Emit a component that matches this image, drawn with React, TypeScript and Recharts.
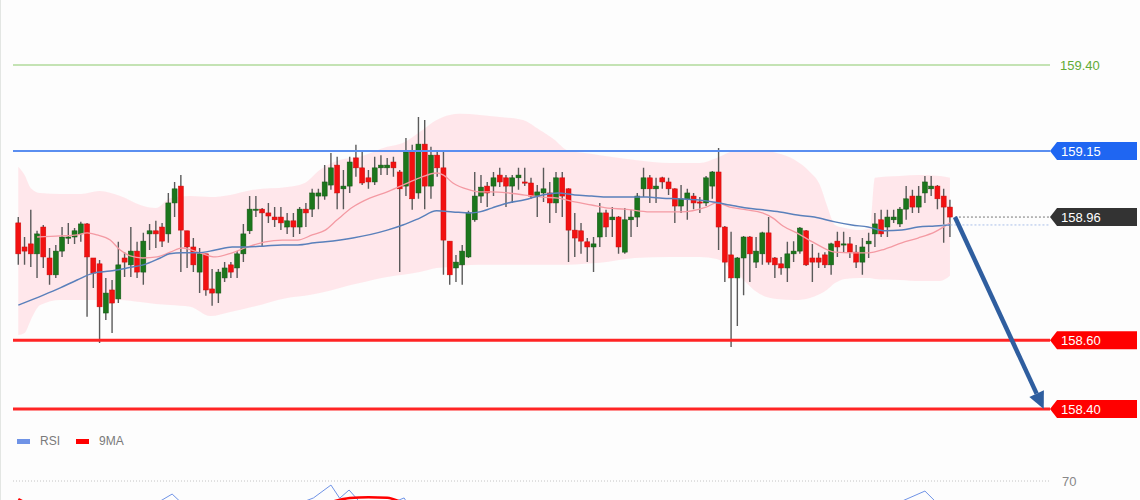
import React from "react";
import {
  ComposedChart,
  LineChart,
  Bar,
  Line,
  Area,
  XAxis,
  YAxis,
  ReferenceLine,
  Legend,
} from "recharts";

// 150 candles, oldest first
const openP = [
  158.941, 158.871, 158.88, 158.851, 158.929, 158.839, 158.79, 158.859, 158.897, 158.9,
  158.909, 158.938, 158.839, 158.822, 158.679, 158.746, 158.72, 158.839, 158.819, 158.859,
  158.798, 158.909, 158.918, 158.929, 158.909, 158.999, 159.048, 158.918, 158.871, 158.798,
  158.851, 158.749, 158.737, 158.781, 158.819, 158.81, 158.851, 158.918, 158.979, 158.981,
  158.97, 158.958, 158.958, 158.929, 158.947, 158.929, 158.981, 158.981, 159.019, 159.019,
  159.051, 159.109, 159.04, 159.048, 159.13, 159.101, 159.072, 159.06, 159.101, 159.101,
  159.118, 159.089, 159.048, 159.147, 159.028, 159.17, 159.048, 159.138, 159.101, 158.888,
  158.81, 158.819, 158.842, 158.95, 159.019, 159.048, 159.048, 159.08, 159.072, 159.048,
  159.072, 159.06, 159.057, 159.019, 159.028, 159.028, 158.999, 159.072, 159.04, 158.92,
  158.918, 158.886, 158.871, 158.9, 158.97, 158.95, 158.958, 158.856, 158.95, 158.958,
  159.04, 159.072, 159.04, 159.072, 159.06, 159.04, 158.99, 159.011, 159.019, 159.002,
  158.999, 159.048, 159.089, 158.929, 158.848, 158.781, 158.839, 158.9, 158.827, 158.851,
  158.912, 158.839, 158.822, 158.81, 158.851, 158.859, 158.918, 158.839, 158.839, 158.848,
  158.819, 158.888, 158.877, 158.88, 158.856, 158.827, 158.88, 158.909, 158.95, 158.929,
  158.95, 158.938, 158.981, 159.019, 158.987, 159.028, 159.04, 159.048, 159.019, 158.987,
];
const highP = [
  158.958, 158.9, 158.979, 158.918, 158.935, 158.868, 158.877, 158.929, 158.941, 158.926,
  158.944, 158.941, 158.839, 158.833, 158.781, 158.775, 158.886, 158.856, 158.929, 158.886,
  158.912, 158.938, 158.947, 158.941, 159.028, 159.06, 159.08, 158.918, 158.897, 158.868,
  158.851, 158.807, 158.807, 158.827, 158.827, 158.859, 158.938, 159.019, 159.019, 158.984,
  158.999, 158.987, 158.987, 158.97, 158.97, 158.987, 158.999, 159.04, 159.04, 159.109,
  159.144, 159.133, 159.095, 159.133, 159.168, 159.147, 159.095, 159.133, 159.138, 159.13,
  159.133, 159.095, 159.188, 159.168, 159.249, 159.24, 159.162, 159.147, 159.147, 158.888,
  158.848, 158.877, 158.976, 159.089, 159.08, 159.06, 159.089, 159.101, 159.08, 159.08,
  159.101, 159.101, 159.072, 159.051, 159.101, 159.06, 159.089, 159.089, 159.042, 158.97,
  158.941, 158.897, 158.9, 158.999, 158.979, 158.987, 158.961, 158.984, 158.979, 159.028,
  159.101, 159.08, 159.072, 159.075, 159.072, 159.042, 159.051, 159.04, 159.028, 159.016,
  159.077, 159.092, 159.159, 158.932, 158.915, 158.842, 158.903, 158.903, 158.9, 158.915,
  158.958, 158.842, 158.842, 158.886, 158.888, 158.929, 158.92, 158.88, 158.854, 158.856,
  158.883, 158.915, 158.915, 158.9, 158.877, 158.897, 158.912, 158.97, 158.979, 158.979,
  158.979, 158.987, 159.048, 159.037, 159.048, 159.077, 159.077, 159.051, 159.04, 159.008,
];
const lowP = [
  158.819, 158.819, 158.813, 158.781, 158.81, 158.761, 158.781, 158.842, 158.88, 158.88,
  158.886, 158.668, 158.752, 158.592, 158.659, 158.621, 158.708, 158.784, 158.784, 158.781,
  158.761, 158.862, 158.868, 158.871, 158.883, 158.958, 158.798, 158.81, 158.798, 158.737,
  158.729, 158.7, 158.708, 158.769, 158.781, 158.781, 158.827, 158.909, 158.958, 158.871,
  158.941, 158.929, 158.92, 158.909, 158.9, 158.909, 158.929, 158.958, 158.981, 159.008,
  159.037, 158.981, 158.981, 159.028, 159.075, 159.051, 159.04, 159.051, 159.08, 159.08,
  159.075, 158.798, 159.019, 158.979, 159.011, 158.981, 159.011, 159.075, 158.79, 158.761,
  158.769, 158.761, 158.839, 158.944, 158.999, 158.987, 159.019, 159.045, 158.987, 158.999,
  159.037, 159.048, 159.011, 158.958, 159.002, 158.941, 158.97, 158.958, 158.827, 158.842,
  158.851, 158.827, 158.798, 158.871, 158.9, 158.9, 158.851, 158.851, 158.9, 158.929,
  159.016, 158.999, 158.999, 159.04, 159.022, 158.941, 158.97, 158.95, 158.981, 158.97,
  158.99, 159.011, 158.862, 158.769, 158.58, 158.641, 158.731, 158.769, 158.81, 158.819,
  158.819, 158.781, 158.79, 158.769, 158.827, 158.851, 158.816, 158.769, 158.81, 158.81,
  158.79, 158.842, 158.856, 158.839, 158.81, 158.79, 158.839, 158.871, 158.9, 158.9,
  158.941, 158.929, 158.95, 158.97, 158.97, 158.999, 159.019, 158.981, 158.883, 158.9,
];
const closeP = [
  158.851, 158.859, 158.851, 158.909, 158.842, 158.79, 158.859, 158.9, 158.9, 158.918,
  158.938, 158.842, 158.795, 158.697, 158.737, 158.708, 158.819, 158.827, 158.859, 158.798,
  158.888, 158.918, 158.909, 158.888, 158.999, 159.04, 158.92, 158.871, 158.819, 158.851,
  158.746, 158.737, 158.798, 158.81, 158.798, 158.851, 158.909, 158.981, 158.981, 158.97,
  158.961, 158.95, 158.941, 158.947, 158.929, 158.981, 158.97, 159.028, 159.028, 159.06,
  159.101, 159.028, 159.048, 159.118, 159.101, 159.057, 159.06, 159.101, 159.109, 159.109,
  159.101, 159.04, 159.147, 159.011, 159.17, 159.048, 159.138, 159.101, 158.891, 158.79,
  158.827, 158.859, 158.97, 159.019, 159.045, 159.028, 159.072, 159.06, 159.048, 159.072,
  159.08, 159.057, 159.019, 159.031, 159.04, 158.999, 159.072, 159.019, 158.92, 158.897,
  158.888, 158.871, 158.88, 158.97, 158.929, 158.958, 158.871, 158.95, 158.958, 159.019,
  159.072, 159.04, 159.048, 159.06, 159.04, 158.99, 159.011, 159.028, 158.999, 158.999,
  159.072, 159.089, 158.929, 158.827, 158.781, 158.839, 158.9, 158.851, 158.859, 158.912,
  158.827, 158.819, 158.81, 158.851, 158.859, 158.926, 158.819, 158.827, 158.827, 158.819,
  158.88, 158.871, 158.88, 158.856, 158.827, 158.871, 158.888, 158.938, 158.909, 158.958,
  158.958, 158.981, 159.011, 158.987, 159.019, 159.06, 159.048, 159.011, 158.987, 158.958,
];

// bollinger envelope, read at these candle positions
const bandAt = [
  0, 1, 2, 3.5, 6.7, 10, 13, 16.3, 19.5, 22, 24.3, 27.5, 30.7, 33.9, 37.5, 43, 45.8, 48.2,
  51.4, 54.6, 59, 61.5, 64.2, 66.9, 69, 70.6, 73.8, 77, 80.7, 83.4, 85.8, 87.7, 90.6, 93,
  98.6, 104.2, 109, 111.7, 114.6, 118.6, 121.3, 124.2, 126.6, 128.2, 129.3, 130.6, 132.2,
  134.6, 136.2, 137, 141, 144.2, 147.4, 149,
];
const bandHigh = [
  159.104, 159.08, 159.042, 159.028, 159.025, 159.025, 159.034, 159.019, 158.993, 158.984,
  159.013, 159.019, 159.016, 159.022, 159.037, 159.045, 159.057, 159.095, 159.124, 159.133,
  159.162, 159.173, 159.205, 159.24, 159.255, 159.258, 159.255, 159.249, 159.24, 159.211,
  159.182, 159.153, 159.144, 159.138, 159.124, 159.115, 159.115, 159.13, 159.15, 159.153,
  159.144, 159.124, 159.089, 159.051, 158.993, 158.935, 158.926, 158.92, 158.926, 159.072,
  159.077, 159.08, 159.077, 159.072,
];
const bandLow = [
  158.615, 158.621, 158.659, 158.702, 158.717, 158.717, 158.717, 158.717, 158.711, 158.705,
  158.702, 158.697, 158.67, 158.682, 158.697, 158.723, 158.729, 158.737, 158.752, 158.766,
  158.784, 158.79, 158.798, 158.81, 158.813, 158.816, 158.819, 158.819, 158.819, 158.819,
  158.819, 158.819, 158.822, 158.825, 158.839, 158.842, 158.842, 158.836, 158.798, 158.734,
  158.72, 158.717, 158.723, 158.734, 158.746, 158.766, 158.778, 158.781, 158.781, 158.778,
  158.775, 158.772, 158.772, 158.787,
];

// pink middle line
const maFastAt = [
  3, 6.7, 9.4, 11, 12.6, 14.7, 16.3, 17.9, 19.9, 22.2, 24.3, 26.2, 28.7, 31.5, 34.2, 36.7,
  39.5, 42.2, 44.7, 47, 49.1, 51, 53.5, 56.2, 59, 61.5, 64.2, 66.9, 68, 69.5, 72.2, 73.8,
  75.7, 78.3, 81, 83.8, 86.3, 89, 91.7, 94.3, 97, 101, 106, 110, 111.7, 113.8, 116.5, 119,
  120.7, 122.3, 124.5, 127.3, 130.6, 133.3, 135.9, 138.6, 141.3, 143.9, 146.6, 149,
];
const maFast = [
  158.9, 158.903, 158.906, 158.912, 158.906, 158.891, 158.862, 158.845, 158.839, 158.842,
  158.856, 158.868, 158.856, 158.842, 158.854, 158.871, 158.886, 158.891, 158.891, 158.906,
  158.92, 158.95, 158.987, 159.013, 159.031, 159.051, 159.072, 159.086, 159.08, 159.057,
  159.037, 159.031, 159.031, 159.028, 159.022, 159.016, 159.013, 159.002, 158.993, 158.984,
  158.981, 158.973, 158.973, 158.987, 158.999, 158.987, 158.979, 158.97, 158.955, 158.932,
  158.912, 158.883, 158.856, 158.854, 158.854, 158.865, 158.883, 158.897, 158.915, 158.941,
];

// blue slow average
const maSlowAt = [
  0, 4, 6.7, 9.4, 12, 14.7, 17.4, 20, 22.7, 24.2, 26.2, 28.7, 31.5, 34.2, 36.7, 39.5, 42.2,
  44.7, 47.4, 49.1, 53.5, 59, 61.5, 64.2, 66.9, 69.5, 72.2, 73.8, 75.7, 78.3, 81, 83.8, 86.3,
  89, 91.7, 94.3, 97, 100.5, 103, 105.8, 108.5, 111.1, 113.8, 116.5, 119.1, 121.8, 124.6,
  127.3, 130.6, 133.3, 135.9, 138.6, 141.3, 143.9, 146.6, 149,
];
const maSlow = [
  158.702, 158.731, 158.752, 158.775, 158.795, 158.801, 158.81, 158.819, 158.839, 158.851,
  158.854, 158.854, 158.862, 158.871, 158.871, 158.874, 158.877, 158.877, 158.883, 158.886,
  158.897, 158.92, 158.935, 158.955, 158.976, 158.973, 158.97, 158.973, 158.984, 158.999,
  159.008, 159.022, 159.028, 159.022, 159.019, 159.016, 159.016, 159.016, 159.013, 159.011,
  159.008, 159.002, 158.993, 158.984, 158.979, 158.973, 158.964, 158.958, 158.944, 158.935,
  158.929, 158.918, 158.92, 158.929, 158.932, 158.935,
];

// RSI pane, only its top edge shows
const rsiAt = [
  0, 5, 10, 15, 20, 24.6, 28, 33, 38, 43, 47.2, 50, 51.4, 52.9, 54.6, 57, 59.5, 61.7, 63, 66,
  69, 72, 78, 85, 90, 95, 100, 106, 112, 114, 118, 124, 130, 136, 141, 145, 147, 149,
];
const rsi = [
  52, 48, 45, 40, 50, 61.3, 48, 40, 50, 52, 58.7, 67.3, 58.5, 64, 56, 52, 55, 58.7, 50, 56,
  40, 45, 52, 50, 42, 46, 52, 50, 54, 35, 40, 42, 44, 50, 56, 63.3, 55, 50,
];
const rsiMaAt = [0, 3, 10, 20, 30, 40, 48, 53, 56, 59, 62, 68, 80, 100, 115, 125, 140, 149];
const rsiMa = [58, 52, 47, 46, 48, 50, 54, 58.6, 59.2, 58.8, 55, 52, 50, 48, 45, 42, 50, 54];
const legendOrder = ["RSI", "9MA"];

const rsiLevel = 70;
const resistance2 = 159.4;
const resistance1 = 159.15;
const support1 = 158.6;
const support2 = 158.4;

const W = 1140;
const H = 500;
const X_DOMAIN: [number, number] = [-0.85, 165];
const FONT = "'Liberation Sans', Arial, sans-serif";

const candles = openP.map((o, i) => ({ i, o, h: highP[i], l: lowP[i], c: closeP[i] }));
const band = bandAt.map((i, k) => ({ i, lo: bandLow[k], hi: bandHigh[k] }));
const fast = maFastAt.map((i, k) => ({ i, v: maFast[k] }));
const slow = maSlowAt.map((i, k) => ({ i, v: maSlow[k] }));
const rsiPts = rsiAt.map((i, k) => ({ i, v: rsi[k] }));
const rsiMaPts = rsiMaAt.map((i, k) => ({ i, v: rsiMa[k] }));

const lastIdx = candles.length - 1;
const lastClose = closeP[lastIdx];
const lastSlow = maSlow[maSlow.length - 1];

const Candle = (props: any) => {
  const { x, y, width, height, payload } = props;
  if (payload == null) return null;
  const top = Math.min(y, y + height);
  const bot = Math.max(y, y + height);
  const span = payload.h - payload.l || 1;
  const py = (p: number) => top + ((payload.h - p) / span) * (bot - top);
  const cx = x + width / 2;
  const up = payload.c >= payload.o;
  const bTop = py(Math.max(payload.o, payload.c));
  const bBot = py(Math.min(payload.o, payload.c));
  return (
    <g>
      <line x1={cx} x2={cx} y1={top} y2={bot} stroke="#5a5a5a" strokeWidth={1.4} />
      <rect
        x={cx - 2.5}
        y={bTop}
        width={5}
        height={Math.max(1.2, bBot - bTop)}
        fill={up ? "#1c761c" : "#f21111"}
        stroke={up ? "#135513" : "#c80c0c"}
        strokeWidth={0.5}
      />
    </g>
  );
};

const tag = (fill: string, text: string) => (p: any) => {
  const vb = p.viewBox || {};
  const x = vb.x + vb.width;
  const y = vb.y;
  return (
    <g>
      <polygon
        points={`${x},${y} ${x + 7},${y - 9} ${x + 87},${y - 9} ${x + 87},${y + 9} ${x + 7},${y + 9}`}
        fill={fill}
      />
      <text x={x + 11} y={y} dy="0.36em" fill="#ffffff" fontSize={13} fontFamily={FONT}>
        {text}
      </text>
    </g>
  );
};

const plainLabel = (color: string, text: string, dx: number) => (p: any) => {
  const vb = p.viewBox || {};
  return (
    <text x={vb.x + vb.width + dx} y={vb.y} dy="0.36em" fill={color} fontSize={13} fontFamily={FONT}>
      {text}
    </text>
  );
};

const arrowShape = (p: any) => {
  const { x1, y1, x2, y2 } = p;
  const dx = x2 - x1;
  const dy = y2 - y1;
  const len = Math.hypot(dx, dy) || 1;
  const ux = dx / len;
  const uy = dy / len;
  const bx = x2 - ux * 17;
  const by = y2 - uy * 17;
  const nx = -uy * 8;
  const ny = ux * 8;
  return (
    <g>
      <line x1={x1} y1={y1} x2={bx} y2={by} stroke="#2f5e9f" strokeWidth={4.5} />
      <polygon points={`${x2},${y2} ${bx + nx},${by + ny} ${bx - nx},${by - ny}`} fill="#2f5e9f" />
    </g>
  );
};

const LegendBox = (props: any) => {
  const items = [...(props.payload || [])].sort(
    (a: any, b: any) => legendOrder.indexOf(a.value) - legendOrder.indexOf(b.value),
  );
  return (
    <div style={{ display: "flex", alignItems: "center", fontFamily: FONT, fontSize: 12, color: "#7a7a7a" }}>
      {items.map((it: any) => (
        <span key={it.value} style={{ display: "inline-flex", alignItems: "center", marginRight: 16 }}>
          <span style={{ display: "inline-block", width: 13, height: 5, background: it.color, marginRight: 10 }} />
          {it.value}
        </span>
      ))}
    </div>
  );
};

export default function App() {
  return (
    <div
      style={{
        position: "absolute",
        left: 0,
        top: 0,
        width: W,
        height: H,
        overflow: "hidden",
        background: "#fdfdfd",
      }}
    >
      <div style={{ position: "absolute", left: 0, top: 0, width: 1, height: H, background: "#e3e6e3" }} />
      <div style={{ position: "absolute", left: 0, top: 0 }}>
        <ComposedChart
          width={W}
          height={H}
          data={candles}
          margin={{ top: 13.4, right: 90, bottom: 39.4, left: 13 }}
        >
          <XAxis dataKey="i" type="number" domain={X_DOMAIN} hide allowDataOverflow />
          <YAxis type="number" domain={[158.25, 159.55]} hide allowDataOverflow />
          <Area
            data={band}
            dataKey={(d: any) => [d.lo, d.hi]}
            type="monotone"
            stroke="none"
            fill="#ffe3e8"
            fillOpacity={0.85}
            isAnimationActive={false}
          />
          <Bar dataKey={(d: any) => [d.l, d.h]} shape={Candle} barSize={5} isAnimationActive={false} />
          <Line
            data={fast}
            dataKey="v"
            type="monotone"
            stroke="#f49aa3"
            strokeWidth={1.3}
            dot={false}
            isAnimationActive={false}
          />
          <Line
            data={slow}
            dataKey="v"
            type="monotone"
            stroke="#5a80bb"
            strokeWidth={1.5}
            dot={false}
            isAnimationActive={false}
          />
          <ReferenceLine
            y={resistance2}
            stroke="#c4e3b4"
            strokeWidth={2}
            label={plainLabel("#62ab37", resistance2.toFixed(2), 10)}
          />
          <ReferenceLine
            y={resistance1}
            stroke="#5a8ef0"
            strokeWidth={2}
            label={tag("#1f66f2", resistance1.toFixed(2))}
          />
          <ReferenceLine
            y={support1}
            stroke="#ff2424"
            strokeWidth={3}
            label={tag("#ff0000", support1.toFixed(2))}
          />
          <ReferenceLine
            y={support2}
            stroke="#ff2424"
            strokeWidth={3}
            label={tag("#ff0000", support2.toFixed(2))}
          />
          <ReferenceLine
            segment={[
              { x: lastIdx - 1.2, y: lastSlow },
              { x: X_DOMAIN[1], y: lastSlow },
            ]}
            stroke="#a9bfea"
            strokeDasharray="2 2"
            strokeWidth={1}
            ifOverflow="visible"
          />
          <ReferenceLine
            segment={[
              { x: lastIdx + 0.8, y: lastClose },
              { x: X_DOMAIN[1], y: lastClose },
            ]}
            stroke="#777777"
            strokeDasharray="2 2"
            strokeWidth={1}
            ifOverflow="visible"
            label={tag("#333333", lastClose.toFixed(2))}
          />
          <ReferenceLine
            segment={[
              { x: lastIdx + 0.8, y: lastClose },
              { x: 164, y: support2 },
            ]}
            ifOverflow="visible"
            shape={arrowShape}
          />
        </ComposedChart>
      </div>
      <div style={{ position: "absolute", left: 0, top: 0, pointerEvents: "none" }}>
        <LineChart width={W} height={600} margin={{ top: 436, right: 90, bottom: 14, left: 13 }}>
          <XAxis dataKey="i" type="number" domain={X_DOMAIN} hide allowDataOverflow />
          <YAxis type="number" domain={[0, 100]} hide allowDataOverflow />
          <ReferenceLine
            y={rsiLevel}
            stroke="#c4c4c4"
            strokeDasharray="1 2"
            strokeWidth={1}
            label={plainLabel("#888888", String(rsiLevel), 12)}
          />
          <Line
            data={rsiPts}
            dataKey="v"
            name="RSI"
            type="linear"
            stroke="#6f93e6"
            strokeWidth={1}
            dot={false}
            legendType="rect"
            isAnimationActive={false}
          />
          <Line
            data={rsiMaPts}
            dataKey="v"
            name="9MA"
            type="monotone"
            stroke="#ff0000"
            strokeWidth={2.5}
            dot={false}
            legendType="rect"
            isAnimationActive={false}
          />
          <Legend
            align="center"
            verticalAlign="middle"
            content={LegendBox}
            wrapperStyle={{ top: 434, left: 17, width: 200 }}
          />
        </LineChart>
      </div>
    </div>
  );
}
